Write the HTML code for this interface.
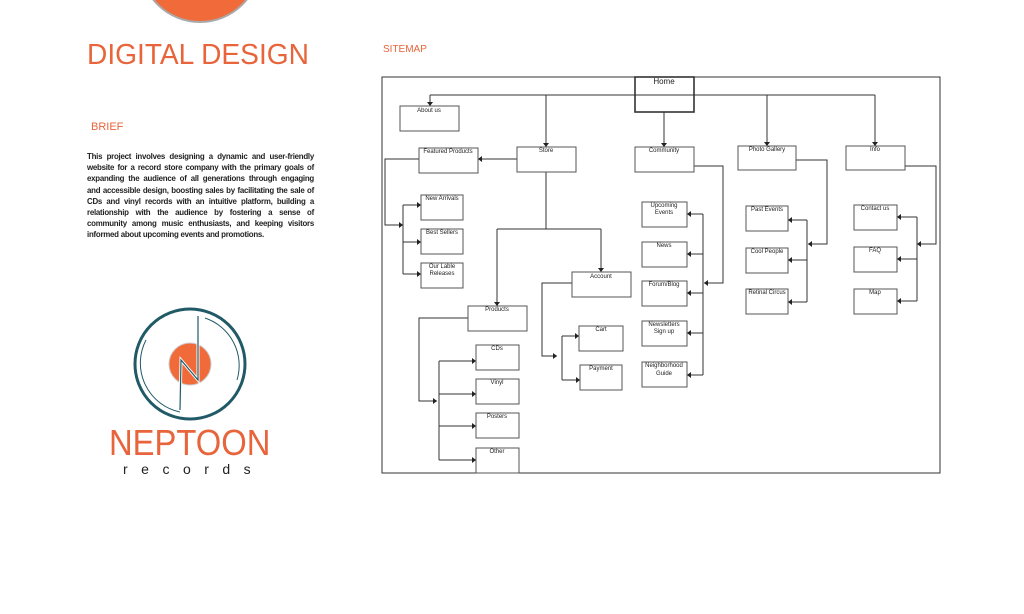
<!DOCTYPE html>
<html><head><meta charset="utf-8"><style>
html,body{margin:0;padding:0;background:#fff;width:1024px;height:614px;overflow:hidden;position:relative;font-family:"Liberation Sans",sans-serif}
.o{color:#e8643a;position:absolute;white-space:nowrap}
#p{position:absolute;left:87px;top:151px;width:227px;font-size:7.9px;line-height:11.2px;text-align:justify;font-weight:bold;color:#222;letter-spacing:-0.25px}
svg text{font-family:"Liberation Sans",sans-serif;font-size:6px;fill:#222;text-anchor:middle}
</style></head><body>
<svg width="1024" height="614" style="position:absolute;left:0;top:0">
<circle cx="200" cy="-38" r="60" fill="#f06a3a" stroke="#aaa" stroke-width="2"/>
<circle cx="190" cy="364" r="55" fill="none" stroke="#1f5a66" stroke-width="3"/>
<path d="M146 340 A50 50 0 0 0 180 412" fill="none" stroke="#1f5a66" stroke-width="1"/>
<path d="M205 318 A50 50 0 0 1 237 380" fill="none" stroke="#1f5a66" stroke-width="1"/>
<circle cx="190" cy="364" r="21" fill="#f06a3a" stroke="#ccc" stroke-width="1"/>
<path d="M180 410 L181 360 L198 380 L198 316" fill="none" stroke="#fff" stroke-width="3"/>
<path d="M180 410 L181 360 L198 380 L198 316" fill="none" stroke="#1f5a66" stroke-width="1.2"/>
<g fill="none" stroke="#333" stroke-width="1">
<rect x="382" y="77" width="558" height="396"/>
<rect x="635" y="77" width="59" height="35" stroke-width="1.6"/>
<path d="M430 95H875M430 95V106M546 95V147M664 112V147M767 95V146M875 95V146"/>
<path d="M517 159H478"/>
<path d="M419 159H385V225H403M403 205V274M403 205H421M403 242H421M403 274H421"/>
<path d="M546 172V229M497 229H601M497 229V306M601 229V272"/>
<path d="M468 318H419V401H437M439 361V460M439 361H476M439 394H476M439 426H476M439 460H476"/>
<path d="M572 283H542V356H557M562 336V380M562 336H579M562 380H580"/>
<path d="M694 166H723V283H704M703 214V375M703 214H687M703 254H687M703 293H687M703 333H687M703 375H687"/>
<path d="M796 160H827V244H808M807 220V302M807 220H788M807 260H788M807 302H788"/>
<path d="M905 166H936V244H917M917 217V301M917 217H897M917 259H897M917 301H897"/>
</g>
<g fill="none" stroke="#555" stroke-width="1">
<rect x="400" y="106" width="59" height="25"/><rect x="517" y="147" width="59" height="25"/>
<rect x="635" y="147" width="59" height="25"/><rect x="738" y="146" width="58" height="24"/>
<rect x="846" y="146" width="59" height="24"/><rect x="419" y="148" width="59" height="25"/>
<rect x="421" y="195" width="42" height="25"/><rect x="421" y="229" width="42" height="25"/><rect x="421" y="263" width="42" height="25"/>
<rect x="572" y="272" width="59" height="25"/><rect x="468" y="306" width="59" height="25"/>
<rect x="476" y="345" width="43" height="25"/><rect x="476" y="379" width="43" height="25"/><rect x="476" y="413" width="43" height="25"/><rect x="476" y="448" width="43" height="25"/>
<rect x="579" y="326" width="44" height="25"/><rect x="580" y="365" width="42" height="25"/>
<rect x="642" y="202" width="45" height="25"/><rect x="642" y="242" width="45" height="25"/><rect x="642" y="281" width="45" height="25"/><rect x="642" y="321" width="45" height="25"/><rect x="642" y="362" width="45" height="25"/>
<rect x="746" y="206" width="42" height="25"/><rect x="746" y="248" width="42" height="25"/><rect x="746" y="289" width="42" height="25"/>
<rect x="854" y="205" width="43" height="25"/><rect x="854" y="247" width="43" height="25"/><rect x="854" y="289" width="43" height="25"/>
</g>
<g fill="#222">
<path d="M427 102h6l-3 4zM543 143h6l-3 4zM661 143h6l-3 4zM764 142h6l-3 4zM872 142h6l-3 4zM494 302h6l-3 4zM598 268h6l-3 4z"/>
<path d="M478 159l4-3v6zM403 225l-4-3v6zM421 205l-4-3v6zM421 242l-4-3v6zM421 274l-4-3v6z"/>
<path d="M437 401l-4-3v6zM476 361l-4-3v6zM476 394l-4-3v6zM476 426l-4-3v6zM476 460l-4-3v6z"/>
<path d="M557 356l-4-3v6zM579 336l-4-3v6zM580 380l-4-3v6z"/>
<path d="M704 283l4-3v6zM687 214l4-3v6zM687 254l4-3v6zM687 293l4-3v6zM687 333l4-3v6zM687 375l4-3v6z"/>
<path d="M808 244l4-3v6zM788 220l4-3v6zM788 260l4-3v6zM788 302l4-3v6z"/>
<path d="M917 244l4-3v6zM897 217l4-3v6zM897 259l4-3v6zM897 301l4-3v6z"/>
</g>
<text x="664" y="84" style="font-size:8px">Home</text>
<text x="429" y="112">About us</text><text x="546" y="152">Store</text><text x="664" y="152">Community</text>
<text x="767" y="151">Photo Gallery</text><text x="875" y="151">Info</text><text x="448" y="153">Featured Products</text>
<text x="442" y="200">New Arrivals</text><text x="442" y="234">Best Sellers</text><text x="442" y="268">Our Lable</text><text x="442" y="275">Releases</text>
<text x="601" y="278">Account</text><text x="497" y="311">Products</text>
<text x="497" y="350">CDs</text><text x="497" y="384">Vinyl</text><text x="497" y="418">Posters</text><text x="497" y="453">Other</text>
<text x="601" y="331">Cart</text><text x="601" y="370">Payment</text>
<text x="664" y="207">Upcoming</text><text x="664" y="214">Events</text><text x="664" y="247">News</text><text x="664" y="286">Forum/Blog</text>
<text x="664" y="326">Newsletters</text><text x="664" y="333">Sign up</text><text x="664" y="367">Neighborhood</text><text x="664" y="375">Guide</text>
<text x="767" y="211">Past Events</text><text x="767" y="253">Cool People</text><text x="767" y="294">Retinal Circus</text>
<text x="875" y="210">Contact us</text><text x="875" y="252">FAQ</text><text x="875" y="294">Map</text>
</svg>
<div class="o" style="left:87px;top:39px;font-size:29px;line-height:32px;transform:scaleX(0.97);transform-origin:left">DIGITAL DESIGN</div>
<div class="o" style="left:383px;top:44px;font-size:10px">SITEMAP</div>
<div class="o" style="left:91px;top:121px;font-size:11px">BRIEF</div>
<div id="p">This project involves designing a dynamic and user-friendly website for a record store company with the primary goals of expanding the audience of all generations through engaging and accessible design, boosting sales by facilitating the sale of CDs and vinyl records with an intuitive platform, building a relationship with the audience by fostering a sense of community among music enthusiasts, and keeping visitors informed about upcoming events and promotions.</div>
<div class="o" style="left:109px;top:424px;font-size:36px;line-height:38px;transform:scaleX(0.91);transform-origin:left">NEPTOON</div>
<div style="position:absolute;left:123px;top:460px;font-size:14px;letter-spacing:13.5px;color:#222;line-height:18px">records</div>
</body></html>
